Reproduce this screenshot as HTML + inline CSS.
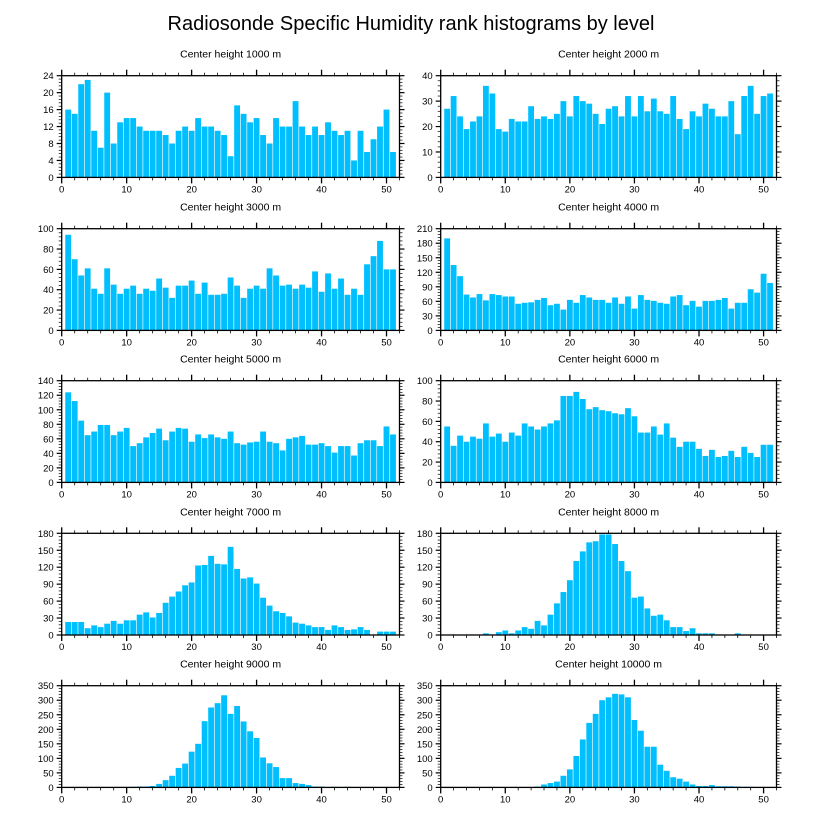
<!DOCTYPE html>
<html><head><meta charset="utf-8"><style>
body{margin:0;background:#fff;font-family:"Liberation Sans",sans-serif}
svg text{font-family:"Liberation Sans",sans-serif}
</style></head><body>
<svg id="c" width="818" height="824" viewBox="0 0 818 824">
<text x="411" y="30" text-anchor="middle" font-size="20">Radiosonde Specific Humidity rank histograms by level</text>
</svg>
<script>
const levels=["1000","2000","3000","4000","5000","6000","7000","8000","9000","10000"];
const yMax=[24,40,100,210,140,100,180,180,350,350];
const yStep=[4,10,20,30,20,20,30,30,50,50];
const xTicks=[0,10,20,30,40,50];
const h1000=[16,15,22,23,11,7,20,8,13,14,14,12,11,11,11,10,8,11,12,11,14,12,12,11,10,5,17,15,13,14,10,8,14,12,12,18,12,10,12,10,13,11,10,11,4,11,6,9,12,16,6];
const h2000=[27,32,24,19,22,24,36,33,19,18,23,22,22,28,23,24,23,25,30,24,32,30,29,25,21,27,28,24,32,24,32,26,31,26,25,32,23,19,26,24,29,27,24,24,30,17,32,36,25,32,33];
const h3000=[94,70,54,61,41,36,61,45,36,41,44,36,41,39,51,42,32,44,44,49,36,47,35,35,36,52,44,32,41,44,41,61,54,44,45,41,45,42,58,38,56,41,51,35,41,35,65,73,88,60,60];
const h4000=[190,135,112,74,68,75,62,75,73,70,70,55,57,58,63,67,52,55,43,63,57,73,68,63,63,57,68,55,70,45,73,63,61,57,55,70,73,52,61,49,61,61,63,67,45,57,57,85,78,117,98];
const h5000=[124,112,85,65,70,79,79,65,70,75,50,54,62,68,74,58,70,75,74,56,66,61,66,62,60,70,54,52,55,56,70,56,54,44,60,62,64,52,52,54,50,41,50,50,37,54,58,58,50,77,66];
const h6000=[55,36,46,40,45,43,58,45,48,40,49,46,58,55,52,55,58,61,85,85,89,82,72,74,71,70,68,67,73,65,49,49,55,47,58,44,35,40,40,33,26,32,25,26,31,25,35,29,25,37,37];
const h7000=[23,23,23,12,17,14,20,25,20,26,26,36,40,31,39,57,68,77,88,93,123,124,140,126,125,156,117,100,102,91,66,52,42,39,33,22,20,17,14,14,9,17,14,9,10,14,9,0,6,6,6];
const h8000=[0,1,0,0,1,0,3,1,5,8,3,8,14,11,25,17,36,56,76,97,131,148,164,166,178,178,161,131,113,66,68,47,34,36,26,14,14,7,12,3,3,3,1,0,0,3,1,0,0,0,0];
const h9000=[0,0,0,0,0,0,0,0,0,0,2,3,3,5,12,25,40,67,82,123,150,228,275,290,317,253,280,227,193,170,103,83,70,32,32,15,12,8,3,3,1,2,0,2,0,0,0,0,0,0,0];
const h10000=[0,0,0,0,0,0,0,0,0,0,0,0,0,0,3,10,15,20,40,62,108,165,222,253,300,310,322,320,310,232,195,140,140,78,57,35,30,20,10,5,5,8,4,4,4,3,2,2,1,1,1];
const series=[h1000,h2000,h3000,h4000,h5000,h6000,h7000,h8000,h9000,h10000];

const NS="http://www.w3.org/2000/svg";
const svg=document.getElementById('c');
function mk(t,a,p){const e=document.createElementNS(NS,t);for(const k in a)e.setAttribute(k,a[k]);p.appendChild(e);return e;}
const colL=[61.7,399.5], colR=[440.7,776.5];
const rowTop=[75.7,228.7,380.7,533.3,685.7];
const PH=101.7;
series.forEach((vals,i)=>{
  const col=i%2?colR:colL, top=rowTop[Math.floor(i/2)], bot=top+PH;
  const g=mk('g',{},svg);
  
  
  const xs=v=>col[0]+(col[1]-col[0])*v/52;
  const ys=v=>bot-PH*v/yMax[i];
  const t=mk('text',{x:(col[0]+col[1])/2,y:top-18,'text-anchor':'middle','font-size':'10.5'},g);
  t.textContent='Center height '+levels[i]+' m';
  
  
  vals.forEach((v,k)=>{
    const x=k+1;
    if(v<=0)return;
    const r=mk('rect',{x:xs(x-0.45),y:ys(Math.min(v,yMax[i])),width:xs(0.9)-xs(0),height:bot-ys(Math.min(v,yMax[i])),fill:'#00bfff'},g);
    
    
  });
  const f=mk('rect',{x:col[0],y:top,width:col[1]-col[0],height:PH,fill:'none',stroke:'#000','stroke-width':'1.3'},g);
  
  
  // x ticks
  for(let v=0;v<=52;v+=2){
    const maj=v%10===0, L=maj?6:3, x=xs(v);
    mk('line',{x1:x,x2:x,y1:bot,y2:bot+L,stroke:'#000','stroke-width':maj?1.3:0.8},g);
    mk('line',{x1:x,x2:x,y1:top,y2:top-L,stroke:'#000','stroke-width':maj?1.3:0.8},g);
  }
  xTicks.forEach(v=>{
    const tl=mk('text',{x:xs(v),y:bot+15,'text-anchor':'middle','font-size':'9.5'},g);
    tl.textContent=v;
    
    
  });
  // y ticks
  const minor=yStep[i]/5;
  for(let v=0;v<=yMax[i]+1e-6;v+=minor){
    const maj=Math.abs(v/yStep[i]-Math.round(v/yStep[i]))<1e-6, L=maj?5:3, y=ys(v);
    mk('line',{x1:col[0],x2:col[0]-L,y1:y,y2:y,stroke:'#000','stroke-width':maj?1.2:0.7},g);
    mk('line',{x1:col[1],x2:col[1]+L,y1:y,y2:y,stroke:'#000','stroke-width':maj?1.2:0.7},g);
  }
  for(let v=0;v<=yMax[i];v+=yStep[i]){
    const tl=mk('text',{x:col[0]-8,y:ys(v)+3.5,'text-anchor':'end','font-size':'9.5'},g);
    tl.textContent=v;
    
    
  }
});
</script>
</body></html>
